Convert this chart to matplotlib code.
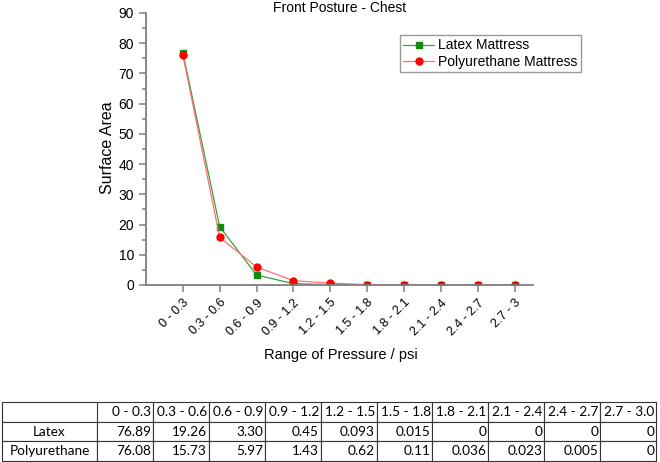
import matplotlib
matplotlib.use("Agg")
import matplotlib.pyplot as plt
import numpy as np

# data
ranges = ["0 - 0.3", "0.3 - 0.6", "0.6 - 0.9", "0.9 - 1.2", "1.2 - 1.5",
          "1.5 - 1.8", "1.8 - 2.1", "2.1 - 2.4", "2.4 - 2.7", "2.7 - 3"]
table_ranges = ["0 - 0.3", "0.3 - 0.6", "0.6 - 0.9", "0.9 - 1.2", "1.2 - 1.5",
                "1.5 - 1.8", "1.8 - 2.1", "2.1 - 2.4", "2.4 - 2.7", "2.7 - 3.0"]
latex = [76.89, 19.26, 3.30, 0.45, 0.093, 0.015, 0, 0, 0, 0]
poly = [76.08, 15.73, 5.97, 1.43, 0.62, 0.11, 0.036, 0.023, 0.005, 0]
latex_txt = ["76.89", "19.26", "3.30", "0.45", "0.093", "0.015", "0", "0", "0", "0"]
poly_txt = ["76.08", "15.73", "5.97", "1.43", "0.62", "0.11", "0.036", "0.023", "0.005", "0"]

plt.rcParams['font.family'] = ['Liberation Sans', 'DejaVu Sans']

fig = plt.figure(figsize=(6.6, 4.62), dpi=100)
ax = fig.add_axes([146/660, 1-285/462, (533-146)/660, (285-13)/462])

x = np.arange(len(ranges))
ax.plot(x, latex, color="#3aa03a", lw=0.9, marker="s", ms=4.3,
        mfc="#138a13", mec="#138a13", label="Latex Mattress")
ax.plot(x, poly, color="#ff7070", lw=0.9, marker="o", ms=5,
        mfc="#ff0000", mec="#ff0000", label="Polyurethane Mattress")

ax.set_xlim(-1, 9.5)
ax.set_ylim(0, 90)
ax.set_yticks(np.arange(0, 91, 10))
ax.set_yticks(np.arange(5, 90, 10), minor=True)
ax.set_xticks(x)
ax.set_xticklabels(ranges, rotation=45, ha="right", rotation_mode="anchor", fontsize=9)
ax.tick_params(axis="y", labelsize=10)
ax.tick_params(which="both", color="#808080", width=1.1)
ax.tick_params(which="major", length=5)
ax.tick_params(which="minor", length=3)
for s in ["top", "right"]:
    ax.spines[s].set_visible(False)
for s in ["left", "bottom"]:
    ax.spines[s].set_color("#808080")
    ax.spines[s].set_linewidth(1.3)
ax.patch.set_visible(False)

fig.text(340/660, 1-8/462, "Front Posture - Chest", ha="center", va="center", fontsize=10)
fig.text(108/660, 1-148/462, "Surface Area", rotation=90, ha="center", va="center", fontsize=11.5)
fig.text(341/660, 1-355/462, "Range of Pressure / psi", ha="center", va="center", fontsize=10.5)

leg = ax.legend(loc="upper left", bbox_to_anchor=(400/660, 1-35/462),
                bbox_transform=fig.transFigure, fontsize=10, frameon=True,
                fancybox=False, borderpad=0.25, labelspacing=0.15,
                handlelength=2.2, handletextpad=0.3, borderaxespad=0)
leg.get_frame().set_edgecolor("#808080")
leg.get_frame().set_linewidth(1.0)

# table
tax = fig.add_axes([2/660, 1-461/462, (656-2)/660, (461-402)/462])
tax.axis("off")
cells = [[""] + table_ranges, ["Latex"] + latex_txt, ["Polyurethane"] + poly_txt]
tbl = tax.table(cellText=cells, bbox=[0, 0, 1, 1], cellLoc="right")
tbl.auto_set_font_size(False)
first_w = 95/654
other_w = (1-first_w)/10
for (r, c), cell in tbl.get_celld().items():
    cell.set_width(first_w if c == 0 else other_w)
    cell.set_linewidth(0.8)
    cell.set_edgecolor("#333333")
    cell.get_text().set_fontsize(9.8)
    cell.get_text().set_fontfamily(["Lato", "DejaVu Sans"])
    cell.PAD = 0.03
    if c == 0:
        cell.get_text().set_ha("center")
        cell._loc = "center"
    if r == 0 and c == 0:
        cell.visible_edges = "LTB"

fig.savefig("out.png", dpi=100)
